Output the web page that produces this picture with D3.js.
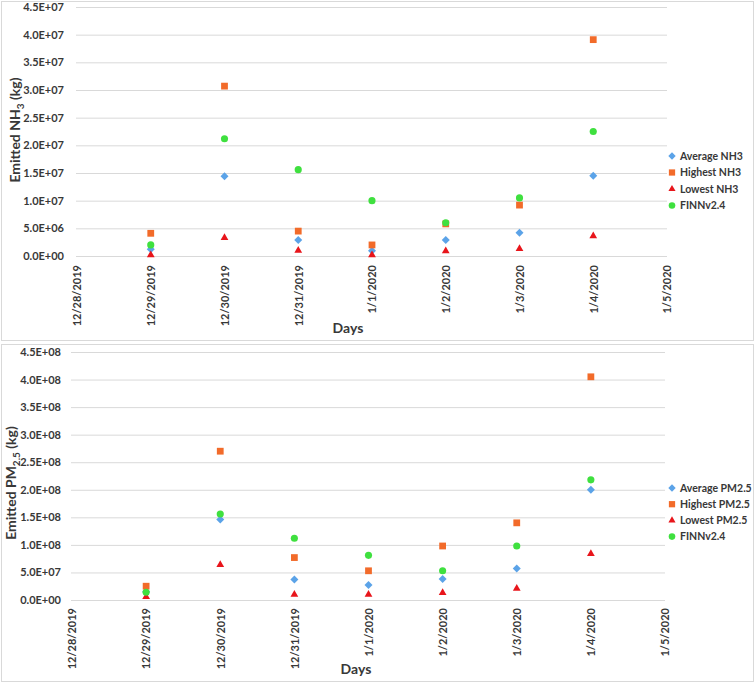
<!DOCTYPE html>
<html>
<head>
<meta charset="utf-8">
<script src="https://cdn.jsdelivr.net/npm/d3@7"></script>
<style>
  html, body { margin: 0; padding: 0; background: #fff; }
  svg { display: block; }
  text { font-family: Lato, "Open Sans", sans-serif; }
</style>
</head>
<body>
<svg id="chart" width="756" height="683"></svg>
<script>
// ---- Data ----
const dayTicks = ["12/28/2019","12/29/2019","12/30/2019","12/31/2019","1/1/2020","1/2/2020","1/3/2020","1/4/2020","1/5/2020"];
const days = ["12/29/2019","12/30/2019","12/31/2019","1/1/2020","1/2/2020","1/3/2020","1/4/2020"];

const nh3Avg  = [1.2e6, 1.44e7, 2.9e6, 0.95e6, 2.9e6, 4.2e6, 1.45e7];
const nh3High = [4.1e6, 3.07e7, 4.5e6, 2.0e6, 5.8e6, 9.2e6, 3.91e7];
const nh3Low  = [0.2e6, 3.3e6, 1.0e6, 0.2e6, 0.9e6, 1.3e6, 3.6e6];
const nh3Finn = [2.0e6, 2.12e7, 1.56e7, 1.0e7, 6.0e6, 1.05e7, 2.25e7];
const nh3Ticks = [0, 5e6, 1e7, 1.5e7, 2e7, 2.5e7, 3e7, 3.5e7, 4e7, 4.5e7];

const pmAvg  = [1.5e7, 1.46e8, 3.7e7, 2.7e7, 3.8e7, 5.7e7, 2.0e8];
const pmHigh = [2.5e7, 2.7e8, 7.7e7, 5.3e7, 9.8e7, 1.4e8, 4.05e8];
const pmLow  = [0.6e7, 6.4e7, 1.0e7, 1.0e7, 1.3e7, 2.1e7, 8.4e7];
const pmFinn = [1.4e7, 1.56e8, 1.12e8, 8.1e7, 5.3e7, 9.8e7, 2.18e8];
const pmTicks = [0, 5e7, 1e8, 1.5e8, 2e8, 2.5e8, 3e8, 3.5e8, 4e8, 4.5e8];

const nh3Names = ["Average NH3", "Highest NH3", "Lowest NH3", "FINNv2.4"];
const pmNames  = ["Average PM2.5", "Highest PM2.5", "Lowest PM2.5", "FINNv2.4"];

// ---- Styles ----
const colors = ["#5ba3e8", "#f26b2a", "#e8151b", "#3fe03f"];
const excelDiamond = {
  draw(ctx, size) {
    const r = Math.sqrt(size / 2);
    ctx.moveTo(0, -r); ctx.lineTo(r, 0); ctx.lineTo(0, r); ctx.lineTo(-r, 0); ctx.closePath();
  }
};
const symbols = [excelDiamond, d3.symbolSquare, d3.symbolTriangle, d3.symbolCircle];
const symSizes = [32, 46, 26, 40];

function fmtE(v) {
  const s = v.toExponential(1).toUpperCase(); // e.g. 4.5E+7
  return s.replace(/E([+-])(\d)$/, "E$10$2");
}

const svg = d3.select("#chart");

function panel(opt) {
  const g = svg.append("g");
  // frame
  g.append("rect").attr("x", opt.frame[0] + 0.5).attr("y", opt.frame[1] + 0.5)
    .attr("width", opt.frame[2]).attr("height", opt.frame[3])
    .attr("fill", "none").attr("stroke", "#d9d9d9").attr("stroke-width", 1);

  const x = d3.scalePoint().domain(dayTicks).range(opt.xr);
  const y = d3.scaleLinear().domain([0, opt.ymax]).range(opt.yr);

  // y axis + gridlines
  const ya = g.append("g").attr("transform", `translate(${opt.xr[0] - 1},0)`)
    .call(d3.axisLeft(y).tickValues(opt.ticks).tickFormat(fmtE)
      .tickSize(-(opt.gridEnd - opt.xr[0] + 1)).tickPadding(opt.ypad));
  ya.select(".domain").remove();
  ya.selectAll(".tick line").attr("stroke", "#d9d9d9").attr("stroke-width", 1);
  ya.selectAll(".tick text").attr("fill", "#383838").style("font-size", "11px")
    .style("font-weight", "bold").style("font-family", "Lato, sans-serif");

  // x axis labels
  const xa = g.append("g").attr("transform", `translate(0,${opt.yr[0]})`)
    .call(d3.axisBottom(x).tickSize(0).tickPadding(0));
  xa.select(".domain").remove();
  xa.selectAll(".tick text")
    .attr("transform", "rotate(-90)")
    .attr("x", -opt.xlabOff).attr("y", 0).attr("dy", "0.35em")
    .attr("text-anchor", "end")
    .attr("fill", "#383838").style("font-size", "11px")
    .style("font-weight", "bold").style("font-family", "Lato, sans-serif");

  // series
  opt.series.forEach((vals, si) => {
    const sym = d3.symbol().type(symbols[si]).size(symSizes[si]);
    g.append("g").selectAll("path").data(vals).join("path")
      .attr("d", sym)
      .attr("transform", (d, i) => `translate(${x(days[i])},${y(d)})`)
      .attr("fill", colors[si]);
  });

  // axis titles
  g.append("text").attr("x", opt.daysPos[0]).attr("y", opt.daysPos[1])
    .attr("text-anchor", "middle").attr("fill", "#383838")
    .style("font-size", "14px").style("font-weight", "bold").text("Days");

  const yt = g.append("text")
    .attr("transform", `translate(${opt.ytPos[0]},${opt.ytPos[1]}) rotate(-90)`)
    .attr("text-anchor", "middle").attr("fill", "#383838")
    .style("font-size", "14px").style("font-weight", "bold");
  yt.append("tspan").text("Emitted " + opt.species);
  yt.append("tspan").attr("dy", 4).style("font-size", "10px").text(opt.sub);
  yt.append("tspan").attr("dy", -4).text(" (kg)");

  // legend
  const lg = g.append("g");
  opt.names.forEach((n, i) => {
    const ly = opt.legY[0] + i * opt.legStep;
    lg.append("path").attr("d", d3.symbol().type(symbols[i]).size(symSizes[i] * 0.85)())
      .attr("transform", `translate(${opt.legX},${ly})`).attr("fill", colors[i]);
    lg.append("text").attr("x", opt.legX + 8).attr("y", ly).attr("dy", "0.35em")
      .attr("fill", "#383838").style("font-size", "10.5px").style("font-weight", "bold")
      .text(n);
  });
}

panel({
  frame: [1, 1, 752, 339],
  xr: [77, 667], yr: [256, 7], ymax: 4.5e7, ticks: nh3Ticks, gridEnd: 667, ypad: 12,
  xlabOff: 9,
  series: [nh3Avg, nh3High, nh3Low, nh3Finn],
  daysPos: [348, 333], ytPos: [20, 130], species: "NH", sub: "3",
  names: nh3Names, legX: 672, legY: [156], legStep: 16.5
});

panel({
  frame: [1, 344, 752, 337],
  xr: [72, 665], yr: [600, 352], ymax: 4.5e8, ticks: pmTicks, gridEnd: 665, ypad: 10,
  xlabOff: 8,
  series: [pmAvg, pmHigh, pmLow, pmFinn],
  daysPos: [356, 674], ytPos: [16, 483], species: "PM", sub: "2.5",
  names: pmNames, legX: 672, legY: [488], legStep: 16.2
});
</script>
</body>
</html>
